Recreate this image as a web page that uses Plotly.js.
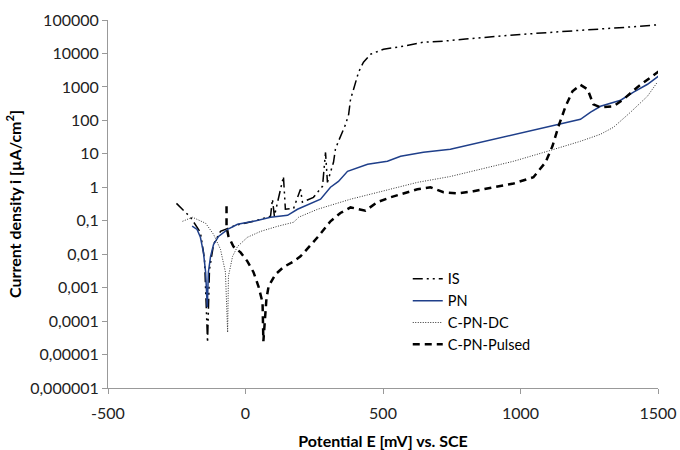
<!DOCTYPE html>
<html>
<head>
<meta charset="utf-8">
<script src="https://cdn.plot.ly/plotly-3.0.1.min.js"></script>
<style>html,body{margin:0;padding:0;background:#fff}#chart{width:680px;height:450px}</style>
</head>
<body>
<div id="chart"></div>
<script>
// Potential E [mV] vs. SCE and current density i [µA/cm²]
const isE = [-251,-200,-164,-149,-138,-131,-116,-91,-36,36,91,98,105,138,145,175,200,207,247,280,291,298,320,327,338,353,364,375,382,393,411,429,455,502,575,647,720,800,900,1000,1150,1291,1400,1502];
const isI = [0.33,0.127,0.045,0.007,0.000023,0.0035,0.02,0.048,0.073,0.10,0.136,0.44,0.136,2.1,0.22,0.235,0.87,0.36,0.5,1.07,11,1.4,5.6,13.7,23.7,44,76,150,430,850,2750,5500,9500,13400,16500,21700,23300,27000,32000,37000,45000,53000,62000,72000];

const pnE = [-194,-176,-164,-153,-145,-139,-135,-127,-116,-98,-65,-29,29,91,153,189,273,309,338,371,444,516,564,647,745,855,927,1036,1145,1218,1255,1291,1364,1411,1462,1502];
const pnI = [0.069,0.055,0.032,0.0113,0.0029,0.00026,0.0029,0.0086,0.0197,0.034,0.055,0.078,0.096,0.127,0.145,0.22,0.44,1.0,1.5,3.0,4.9,6.0,8.5,11.1,13.7,22,31,47,76,108,175,264,400,700,1200,2100];

const dcE = [-229,-193,-145,-116,-91,-73,-65,-62,-47,-29,7,55,116,175,193,262,382,502,625,745,855,975,1098,1218,1291,1338,1400,1462,1498];
const dcI = [0.096,0.127,0.084,0.039,0.014,0.0029,0.000046,0.0022,0.0086,0.017,0.032,0.048,0.068,0.09,0.127,0.22,0.44,0.76,1.4,2.1,3.45,6.0,11.9,23.7,38.5,62,175,530,1400];

const puE = [-69,-69,-62,-44,-18,7,29,47,62,65,76,84,109,138,175,200,262,284,309,345,382,436,480,527,575,625,673,720,771,829,902,975,1047,1091,1116,1138,1164,1189,1218,1244,1265,1291,1338,1375,1425,1462,1502];
const puI = [0.27,0.068,0.034,0.017,0.0113,0.0061,0.0029,0.0011,0.00036,0.000025,0.00045,0.0011,0.0025,0.0041,0.0061,0.0086,0.032,0.055,0.096,0.17,0.25,0.2,0.36,0.5,0.66,0.87,1.0,0.71,0.66,0.76,1.0,1.3,2.0,5.6,16.8,66,264,740,1150,850,300,245,264,430,980,1700,2900];

const yTickVals = [1e-6,1e-5,1e-4,1e-3,1e-2,1e-1,1,10,100,1000,10000,100000];
const yTickText = ["0,000001","0,00001","0,0001","0,001","0,01","0,1","1","10","100","1000","10000","100000"];
const xTickVals = [-500,0,500,1000,1500];

const traces = [
  {x: isE, y: isI, name: "IS", mode: "lines", line: {color: "#000", width: 1.5, dash: "10px,4px,2px,4px,2px,4px"}},
  {x: pnE, y: pnI, name: "PN", mode: "lines", line: {color: "#1f3f8a", width: 1.5}},
  {x: dcE, y: dcI, name: "C-PN-DC", mode: "lines", line: {color: "#333", width: 1, dash: "1px,1.5px"}},
  {x: puE, y: puI, name: "C-PN-Pulsed", mode: "lines", line: {color: "#000", width: 2.5, dash: "7px,5px"}}
];

const font = "Lato, 'Open Sans', sans-serif";
const layout = {
  width: 680, height: 450,
  margin: {l: 108, r: 22, t: 20, b: 62},
  paper_bgcolor: "#fff", plot_bgcolor: "#fff",
  font: {family: font, size: 16, color: "#222"},
  showlegend: true,
  legend: {x: 0.545, y: 0.34, xanchor: "left", yanchor: "top", bgcolor: "rgba(0,0,0,0)", font: {size: 14.5, color: "#000"}, tracegroupgap: 0},
  xaxis: {
    range: [-500, 1500], tickvals: xTickVals, ticktext: xTickVals.map(String),
    showgrid: false, zeroline: false, showline: true, linecolor: "#999", linewidth: 1,
    ticks: "outside", ticklen: 5, tickcolor: "#999", tickfont: {size: 16}, ticklabelstandoff: 6,
    title: {text: "<b>Potential E [mV] vs. SCE</b>", font: {size: 16, color: "#000"}, standoff: 17}
  },
  yaxis: {
    type: "log", range: [-6, 5], tickvals: yTickVals, ticktext: yTickText,
    showgrid: false, zeroline: false, showline: true, linecolor: "#999", linewidth: 1,
    ticks: "outside", ticklen: 5, tickcolor: "#999", tickfont: {size: 16},
    title: {text: "<b>Current density i [µA/cm<sup>2</sup>]</b>", font: {size: 16, color: "#000"}, standoff: 4}
  }
};
Plotly.newPlot("chart", traces, layout, {displayModeBar: false, staticPlot: true});
</script>
</body>
</html>
